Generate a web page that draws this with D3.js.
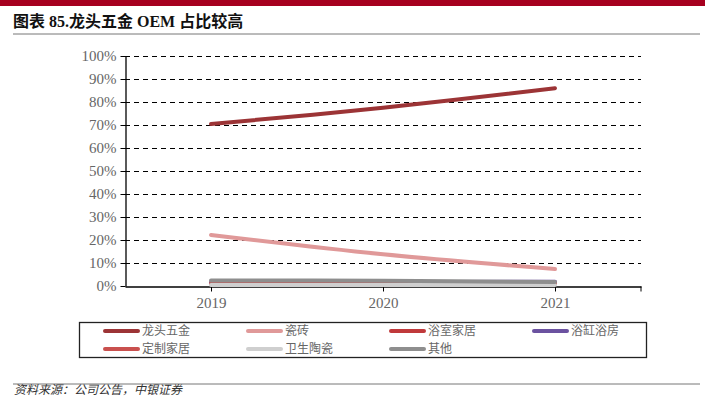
<!DOCTYPE html>
<html>
<head>
<meta charset="utf-8">
<script src="https://cdn.jsdelivr.net/npm/d3@7"></script>
<style>
  body { margin: 0; background: #fff; }
  svg { display: block; }
</style>
</head>
<body>
<svg id="chart" width="705" height="397"></svg>
<script>
// data
const years = ["2019", "2020", "2021"];
const seriesNames = ["龙头五金", "瓷砖", "浴室家居", "浴缸浴房", "定制家居", "卫生陶瓷", "其他"];
const seriesColors = ["#9c3436", "#e09999", "#c0393b", "#6b52a0", "#c9504e", "#cfcfcf", "#8e8e8e"];
const longtou = [0.704, 0.775, 0.86];
const cizhuan = [0.222, 0.138, 0.074];
const yushi = [0.012, 0.011, 0.012];
const yugang = [0.016, 0.016, 0.019];
const dingzhi = [0.010, 0.010, 0.011];
const weisheng = [0.004, 0.004, 0.004];
const qita = [0.024, 0.023, 0.017];
const seriesValues = [longtou, cizhuan, yushi, yugang, dingzhi, weisheng, qita];
const yTicks = [0, 0.1, 0.2, 0.3, 0.4, 0.5, 0.6, 0.7, 0.8, 0.9, 1.0];

const svg = d3.select("#chart");
const serif = "'Liberation Serif', 'Times New Roman', serif";
const cjk = "'Noto Sans CJK SC', sans-serif";

// header band + title
svg.append("rect").attr("x", 0).attr("y", 0).attr("width", 705).attr("height", 6).attr("fill", "#a6001f");
svg.append("text").attr("x", 13).attr("y", 27)
  .attr("font-family", serif + ", " + cjk).attr("font-weight", "bold").attr("font-size", 16).attr("fill", "#111")
  .text("图表 85.龙头五金 OEM 占比较高");
svg.append("line").attr("x1", 13).attr("x2", 700).attr("y1", 34).attr("y2", 34).attr("stroke", "#777").attr("stroke-width", 1);

// scales
const plotL = 125, plotR = 641, plotT = 56, plotB = 286;
const x = d3.scalePoint().domain(years).range([plotL, plotR]).padding(0.5);
const y = d3.scaleLinear().domain([0, 1]).range([plotB, plotT]);

// gridlines
svg.append("g").selectAll("line").data(yTicks.filter(d => d > 0)).join("line")
  .attr("x1", plotL).attr("x2", plotR)
  .attr("y1", d => Math.round(y(d)) + 0.5).attr("y2", d => Math.round(y(d)) + 0.5)
  .attr("stroke", "#000").attr("stroke-width", 1.2).attr("stroke-dasharray", "5,4");

// y axis
const yAxis = svg.append("g").attr("transform", `translate(${plotL + 0.5},0)`)
  .call(d3.axisLeft(y).tickValues(yTicks).tickFormat(d3.format(".0%")).tickSize(5).tickSizeOuter(0));
yAxis.select(".domain").attr("stroke", "#000").attr("stroke-width", 1.3);
yAxis.selectAll(".tick line").attr("stroke", "#000");
yAxis.selectAll(".tick text").attr("font-family", serif).attr("font-size", 15).attr("fill", "#666").attr("x", -9);

// x axis
const xAxis = svg.append("g").attr("transform", `translate(0,${plotB + 0.5})`)
  .call(d3.axisBottom(x).tickSize(5).tickSizeOuter(0));
xAxis.select(".domain").attr("stroke", "#000").attr("stroke-width", 1.3);
xAxis.selectAll(".tick line").attr("stroke", "#000");
xAxis.selectAll(".tick text").attr("font-family", serif).attr("font-size", 15).attr("fill", "#666").attr("dy", "0.9em");
xAxis.append("line").attr("x1", plotR).attr("x2", plotR).attr("y1", 0).attr("y2", 5).attr("stroke", "#000");

// lines
const line = d3.line().x((d, i) => x(years[i])).y(d => y(d)).curve(d3.curveCatmullRom.alpha(0.5));
svg.append("g").selectAll("path").data(seriesValues).join("path")
  .attr("d", line).attr("fill", "none")
  .attr("stroke", (d, i) => seriesColors[i]).attr("stroke-width", 4).attr("stroke-linecap", "round");

// legend
svg.append("rect").attr("x", 79.5).attr("y", 322.5).attr("width", 567).attr("height", 35)
  .attr("fill", "none").attr("stroke", "#222").attr("stroke-width", 1.3);
const legend = svg.append("g").selectAll("g").data(seriesNames).join("g")
  .attr("transform", (d, i) => `translate(${105 + (i % 4) * 143},${i < 4 ? 331 : 349})`);
legend.append("line").attr("x1", 0).attr("x2", 33).attr("y1", 0).attr("y2", 0)
  .attr("stroke", (d, i) => seriesColors[i]).attr("stroke-width", 4).attr("stroke-linecap", "round");
legend.append("text").attr("x", 37).attr("y", 0).attr("dy", "0.36em")
  .attr("font-family", cjk).attr("font-size", 12).attr("fill", "#666").text(d => d);

// source
svg.append("line").attr("x1", 13).attr("x2", 700).attr("y1", 384).attr("y2", 384).attr("stroke", "#777").attr("stroke-width", 1);
svg.append("text").attr("x", 14).attr("y", 394).attr("font-family", cjk).attr("font-style", "italic")
  .attr("font-size", 12).attr("fill", "#333").text("资料来源：公司公告，中银证券");
</script>
</body>
</html>
